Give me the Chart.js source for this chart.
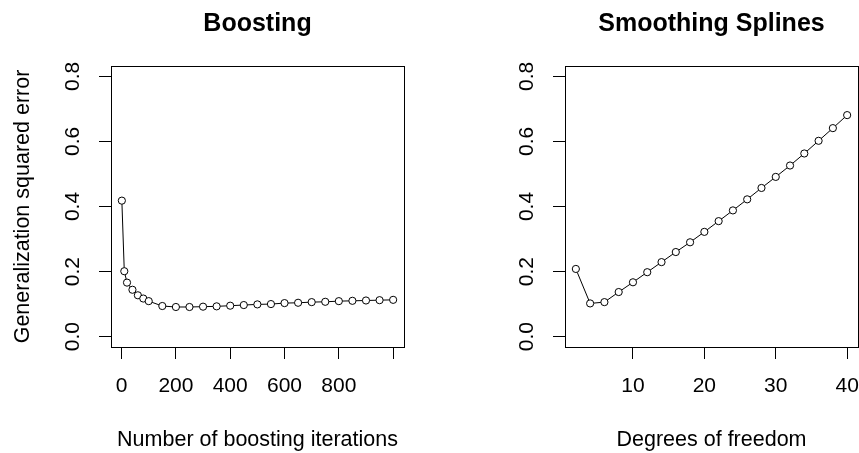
<!DOCTYPE html>
<html>
<head>
<meta charset="utf-8">
<script src="https://cdn.jsdelivr.net/npm/chart.js@4/dist/chart.umd.min.js"></script>
<style>
  html, body { margin: 0; padding: 0; background: #fff; width: 859px; height: 453px; overflow: hidden; position: relative; }
  canvas { position: absolute; top: 0; }
  #c1 { left: 0; }
  #c2 { left: 430px; }
</style>
</head>
<body>
<canvas id="c1" width="430" height="453"></canvas>
<canvas id="c2" width="440" height="453"></canvas>
<script>
// ---- Data ----
const boostIterations = [1, 10, 20, 40, 60, 80, 100, 150, 200, 250, 300, 350, 400, 450, 500, 550, 600, 650, 700, 750, 800, 850, 900, 950, 1000];
const boostError = [0.418, 0.201, 0.166, 0.144, 0.127, 0.117, 0.109, 0.094, 0.091, 0.091, 0.092, 0.093, 0.095, 0.097, 0.099, 0.100, 0.103, 0.104, 0.106, 0.107, 0.109, 0.110, 0.111, 0.112, 0.113];

const splineDf = [2, 4, 6, 8, 10, 12, 14, 16, 18, 20, 22, 24, 26, 28, 30, 32, 34, 36, 38, 40];
const splineError = [0.208, 0.102, 0.106, 0.137, 0.167, 0.198, 0.229, 0.260, 0.290, 0.322, 0.355, 0.388, 0.422, 0.457, 0.491, 0.526, 0.563, 0.602, 0.641, 0.681];

const yTicks = [0, 0.2, 0.4, 0.6, 0.8];
const yTickLabels = ['0.0', '0.2', '0.4', '0.6', '0.8'];
const boostTicks = [0, 200, 400, 600, 800, 1000];
const boostTickLabels = ['0', '200', '400', '600', '800', ''];
const splineTicks = [10, 20, 30, 40];
const splineTickLabels = ['10', '20', '30', '40'];

const titles = ['Boosting', 'Smoothing Splines'];
const xTitles = ['Number of boosting iterations', 'Degrees of freedom'];
const yTitle = 'Generalization squared error';

// ---- Styling / helpers ----
const FONT = '"Liberation Sans", Arial, Helvetica, sans-serif';
Chart.defaults.font.family = FONT;
Chart.defaults.color = '#000';

const boxPlugin = {
  id: 'box',
  afterDraw(chart) {
    const a = chart.chartArea;
    const ctx = chart.ctx;
    ctx.save();
    ctx.strokeStyle = '#000';
    ctx.lineWidth = 1;
    ctx.strokeRect(Math.round(a.left) + 0.5, Math.round(a.top) + 0.5, Math.round(a.right - a.left), Math.round(a.bottom - a.top));
    ctx.restore();
  }
};

function range4(min, max) {
  const d = (max - min) * 0.04;
  return [min - d, max + d];
}

function makeChart(id, xs, ys, xTicks, xLabels, xRange, title, xTitle, yTitleText, yWidth, padRight) {
  const yr = range4(0, 0.8);
  return new Chart(document.getElementById(id), {
    type: 'line',
    data: {
      datasets: [{
        data: xs.map((x, i) => ({ x: x, y: ys[i] })),
        borderColor: '#000',
        borderWidth: 1,
        pointRadius: 3.6,
        pointBorderWidth: 1,
        pointBorderColor: '#000',
        pointBackgroundColor: '#fff',
        tension: 0,
        fill: false
      }]
    },
    plugins: [boxPlugin],
    options: {
      responsive: false,
      animation: false,
      events: [],
      layout: { padding: { left: 0, right: padRight, top: 0, bottom: 0 } },
      plugins: {
        legend: { display: false },
        tooltip: { enabled: false },
        title: {
          display: true,
          text: title,
          fullSize: false,
          color: '#000',
          font: { family: FONT, size: 25, weight: 'bold' },
          padding: { top: 9, bottom: 27 }
        }
      },
      scales: {
        x: {
          type: 'linear',
          min: xRange[0],
          max: xRange[1],
          afterBuildTicks: s => { s.ticks = xTicks.map(v => ({ value: v })); },
          afterFit: s => { s.height = 106; s.paddingLeft = 0; s.paddingRight = 0; },
          ticks: {
            autoSkip: false,
            maxRotation: 0,
            minRotation: 0,
            padding: 15,
            color: '#000',
            font: { family: FONT, size: 21 },
            callback: (v, i) => xLabels[i]
          },
          grid: { display: true, drawOnChartArea: false, drawTicks: true, tickLength: 12, tickColor: '#000', tickWidth: 1, lineWidth: 1, color: '#000' },
          border: { display: false },
          title: {
            display: true,
            text: xTitle,
            color: '#000',
            font: { family: FONT, size: 21.5, lineHeight: 1.0 },
            padding: { top: 0, bottom: 2 }
          }
        },
        y: {
          type: 'linear',
          min: yr[0],
          max: yr[1],
          afterBuildTicks: s => { s.ticks = yTicks.map(v => ({ value: v })); },
          afterFit: s => { s.width = yWidth; s.paddingTop = 0; s.paddingBottom = 0; },
          ticks: {
            autoSkip: false,
            minRotation: 90,
            maxRotation: 90,
            crossAlign: 'center',
            padding: 11,
            color: '#000',
            font: { family: FONT, size: 21 },
            callback: (v, i) => yTickLabels[i]
          },
          grid: { display: true, drawOnChartArea: false, drawTicks: true, tickLength: 12, tickColor: '#000', tickWidth: 1, lineWidth: 1, color: '#000' },
          border: { display: false },
          title: {
            display: !!yTitleText,
            text: yTitleText || '',
            color: '#000',
            font: { family: FONT, size: 21.5 },
            padding: { top: 10, bottom: 0 }
          }
        }
      }
    }
  });
}

makeChart('c1', boostIterations, boostError, boostTicks, boostTickLabels, range4(1, 1000), titles[0], xTitles[0], yTitle, 111, 26);
makeChart('c2', splineDf, splineError, splineTicks, splineTickLabels, range4(2, 40), titles[1], xTitles[1], null, 135, 12);
</script>
</body>
</html>
